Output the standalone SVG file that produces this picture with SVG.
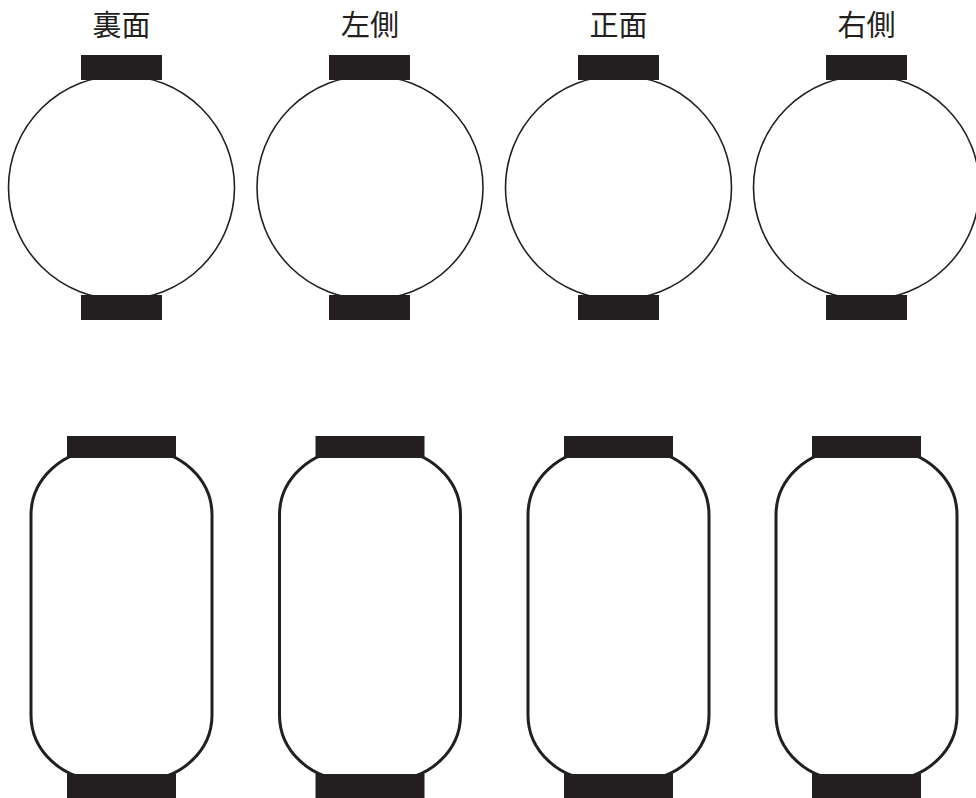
<svg xmlns="http://www.w3.org/2000/svg" width="976" height="798" viewBox="0 0 976 798">
<style>
.lbl{font-family:"Noto Sans CJK JP","Noto Sans CJK SC",sans-serif;font-size:29px;font-weight:400;fill:#231f20;text-anchor:middle}
.ball{fill:#fff;stroke:#231f20;stroke-width:1.6}
.body{fill:#fff;stroke:#231f20;stroke-width:3}
.cap{fill:#231f20}
</style>
<rect width="976" height="798" fill="#fff"/>
<g id="top-1">
<text class="lbl" x="121.5" y="36">裏面</text>
<ellipse class="ball" cx="121.5" cy="187.5" rx="113" ry="112"/>
<rect class="cap" x="81" y="55" width="81" height="25"/>
<rect class="cap" x="81" y="295" width="81" height="25"/>
</g>
<g id="top-2">
<text class="lbl" x="370" y="36">左側</text>
<ellipse class="ball" cx="370" cy="187.5" rx="113" ry="112"/>
<rect class="cap" x="329" y="55" width="81" height="25"/>
<rect class="cap" x="329" y="295" width="81" height="25"/>
</g>
<g id="top-3">
<text class="lbl" x="618.5" y="36">正面</text>
<ellipse class="ball" cx="618.5" cy="187.5" rx="113" ry="112"/>
<rect class="cap" x="578" y="55" width="81" height="25"/>
<rect class="cap" x="578" y="295" width="81" height="25"/>
</g>
<g id="top-4">
<text class="lbl" x="866.5" y="36">右側</text>
<ellipse class="ball" cx="866.5" cy="187.5" rx="113" ry="112"/>
<rect class="cap" x="826" y="55" width="81" height="25"/>
<rect class="cap" x="826" y="295" width="81" height="25"/>
</g>
<g id="bottom-1">
<rect class="body" x="31" y="450" width="181" height="330" rx="70" ry="65"/>
<rect class="cap" x="67" y="436" width="109" height="22"/>
<rect class="cap" x="67" y="774" width="109" height="24"/>
</g>
<g id="bottom-2">
<rect class="body" x="279.5" y="450" width="181" height="330" rx="70" ry="65"/>
<rect class="cap" x="315.5" y="436" width="109" height="22"/>
<rect class="cap" x="315.5" y="774" width="109" height="24"/>
</g>
<g id="bottom-3">
<rect class="body" x="528" y="450" width="181" height="330" rx="70" ry="65"/>
<rect class="cap" x="564" y="436" width="109" height="22"/>
<rect class="cap" x="564" y="774" width="109" height="24"/>
</g>
<g id="bottom-4">
<rect class="body" x="776" y="450" width="181" height="330" rx="70" ry="65"/>
<rect class="cap" x="812" y="436" width="109" height="22"/>
<rect class="cap" x="812" y="774" width="109" height="24"/>
</g>
<g id="connectors"/>
</svg>
